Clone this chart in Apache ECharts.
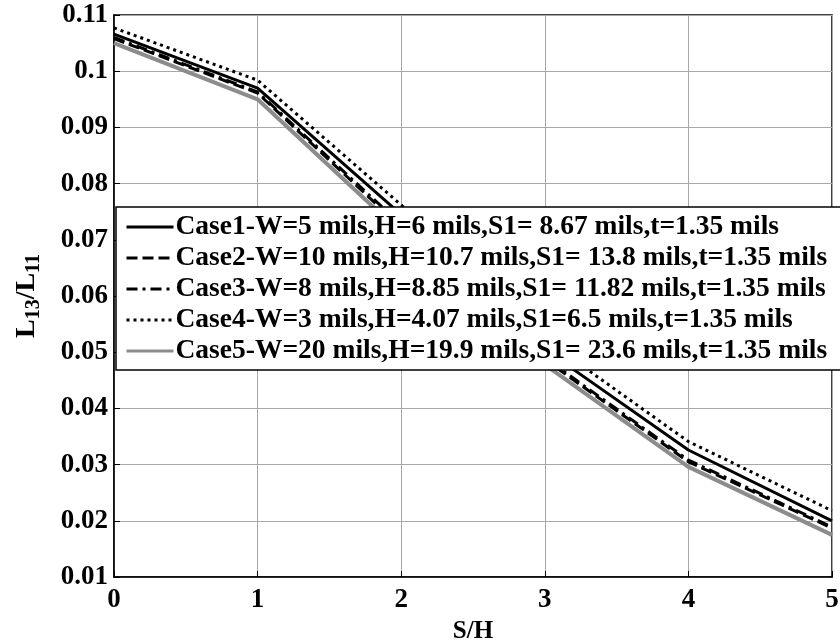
<!DOCTYPE html>
<html>
<head>
<meta charset="utf-8">
<script src="https://cdn.jsdelivr.net/npm/echarts@6/dist/echarts.min.js"></script>
<style>
html,body{margin:0;padding:0;background:#fff;}
#chart{width:840px;height:642px;}
</style>
</head>
<body>
<div id="chart"></div>
<script>
var xValues = [0, 1, 2, 3, 4, 5];
var case1 = [0.1066, 0.0970, 0.0745, 0.0505, 0.0326, 0.0200];
var case2 = [0.1058, 0.0961, 0.0722, 0.0487, 0.0305, 0.0187];
var case3 = [0.1060, 0.0963, 0.0727, 0.0490, 0.0308, 0.0189];
var case4 = [0.1077, 0.0984, 0.0762, 0.0523, 0.0341, 0.0218];
var case5 = [0.1050, 0.0950, 0.0712, 0.0478, 0.0296, 0.0175];
var seriesNames = [
  'Case1-W=5 mils,H=6 mils,S1= 8.67 mils,t=1.35 mils',
  'Case2-W=10 mils,H=10.7 mils,S1= 13.8 mils,t=1.35 mils',
  'Case3-W=8 mils,H=8.85 mils,S1= 11.82 mils,t=1.35 mils',
  'Case4-W=3 mils,H=4.07 mils,S1=6.5 mils,t=1.35 mils',
  'Case5-W=20 mils,H=19.9 mils,S1= 23.6 mils,t=1.35 mils'
];
var xTitle = 'S/H';

var FONT = '"Liberation Serif", "Times New Roman", serif';
function pairs(ys){ return xValues.map(function(x,i){ return [x, ys[i]]; }); }

var styles = [
  {color:'#000', width:3, type:'solid'},
  {color:'#000', width:3, type:[11,5]},
  {color:'#000', width:3, type:[11,5,3,5]},
  {color:'#000', width:3, type:[3,4]},
  {color:'#8c8c8c', width:4, type:'solid'}
];
var datas = [case1, case2, case3, case4, case5];

var chart = echarts.init(document.getElementById('chart'), null, {renderer:'canvas'});
chart.setOption({
  animation:false,
  backgroundColor:'#fff',
  grid:{left:114, right:8, top:15, bottom:65, outerBoundsMode:'none', containLabel:false,
        show:true, borderColor:'#000', borderWidth:1.5, backgroundColor:'transparent'},
  xAxis:{
    type:'value', min:0, max:5, interval:1,
    name:xTitle, nameLocation:'middle', nameGap:41,
    nameTextStyle:{fontFamily:FONT, fontWeight:'bold', fontSize:25, color:'#000'},
    axisLine:{show:true, onZero:false, lineStyle:{color:'#000', width:1.5}},
    axisTick:{show:true, inside:true, length:6, lineStyle:{color:'#000'}},
    axisLabel:{fontFamily:FONT, fontWeight:'bold', fontSize:27, color:'#000', margin:10},
    splitLine:{show:true, lineStyle:{color:'#a8a8a8', width:1}}
  },
  yAxis:{
    type:'value', min:0.01, max:0.11, interval:0.01,
    name:'L{s|13}/L{s|11}', nameLocation:'middle', nameRotate:90, nameGap:70,
    nameTextStyle:{fontFamily:FONT, fontWeight:'bold', fontSize:28, color:'#000',
      rich:{s:{fontFamily:FONT, fontWeight:'bold', fontSize:20, color:'#000', verticalAlign:'bottom', padding:[14,0,0,0]}}},
    axisLine:{show:true, lineStyle:{color:'#000', width:1.5}},
    axisTick:{show:true, inside:true, length:6, lineStyle:{color:'#000'}},
    axisLabel:{fontFamily:FONT, fontWeight:'bold', fontSize:27, color:'#000', margin:6,
      formatter:function(v){ return String(Math.round(v*100)/100); }},
    splitLine:{show:true, lineStyle:{color:'#a8a8a8', width:1}}
  },
  legend:{
    show:true, orient:'vertical', left:116, top:207, z:20,
    backgroundColor:'#fff', borderColor:'#000', borderWidth:1.5,
    padding:[6,14,5,9], itemGap:3, itemWidth:47, itemHeight:14,
    itemStyle:{opacity:0},
    lineStyle:{width:3},
    textStyle:{fontFamily:FONT, fontWeight:'bold', fontSize:27.5, color:'#000', lineHeight:27, padding:[0,0,0,-3]},
    data:seriesNames
  },
  series: datas.map(function(d,i){
    return {
      name:seriesNames[i], type:'line', data:pairs(d), symbol:'none', showSymbol:false,
      lineStyle:{color:styles[i].color, width:styles[i].width, type:styles[i].type},
      itemStyle:{color:styles[i].color},
      z: 2
    };
  })
});
</script>
</body>
</html>
